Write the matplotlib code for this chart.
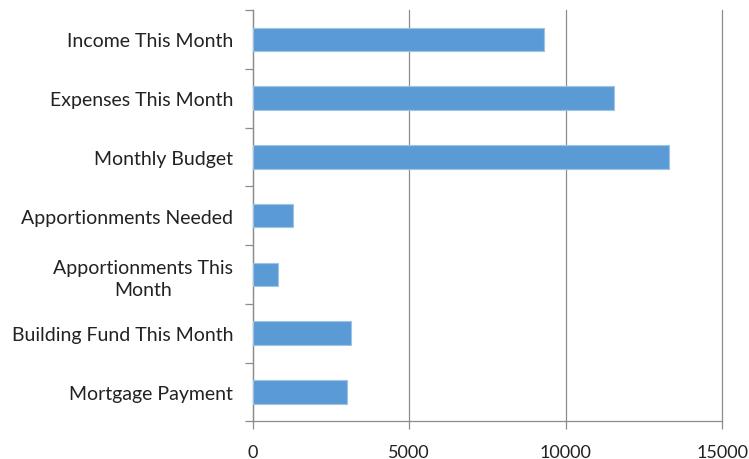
import matplotlib
matplotlib.use("Agg")
import matplotlib.pyplot as plt
import numpy as np

categories = ["Income This Month", "Expenses This Month", "Monthly Budget",
              "Apportionments Needed", "Apportionments This\nMonth",
              "Building Fund This Month", "Mortgage Payment"]
values = [9316, 11543, 13300, 1278, 809, 3131, 3023]
xticks = [0, 5000, 10000, 15000]

plt.rcParams['font.family'] = ['Lato', 'DejaVu Sans']

fig = plt.figure(figsize=(7.49, 4.60), dpi=100)
ax = fig.add_axes([0.3374, 0.082, 0.9644 - 0.3374, 0.976 - 0.082])

y = np.arange(len(categories))
ax.barh(y, values, height=0.4, color="#5B9BD5", edgecolor="#9DC3E6", linewidth=0.8, zorder=3)

ax.set_xlim(0, 15000)
ax.set_ylim(len(categories) - 0.5, -0.5)
ax.set_xticks(xticks)
ax.set_xticklabels([str(t) for t in xticks], fontsize=13, color="#222222")
ax.grid(axis="x", color="#8C8C8C", linewidth=0.9, zorder=0)
for gl in ax.get_xgridlines():
    gl.set_clip_on(False)

ax.set_yticks(y)
ax.set_yticklabels(categories, fontsize=14, color="#222222", multialignment="center",
                   linespacing=1.35)
ax.tick_params(axis="y", which="major", length=0, pad=14)
ax.set_yticks(np.arange(len(categories) + 1) - 0.5, minor=True)
ax.tick_params(axis="y", which="minor", length=6, color="#8C8C8C", width=0.9, direction="out")
ax.tick_params(axis="x", which="major", length=6, color="#8C8C8C", width=0.9, direction="out", pad=10)

for side in ["top", "right"]:
    ax.spines[side].set_visible(False)
for side in ["left", "bottom"]:
    ax.spines[side].set_color("#8C8C8C")
    ax.spines[side].set_linewidth(0.9)

fig.savefig("out.png", dpi=100)
